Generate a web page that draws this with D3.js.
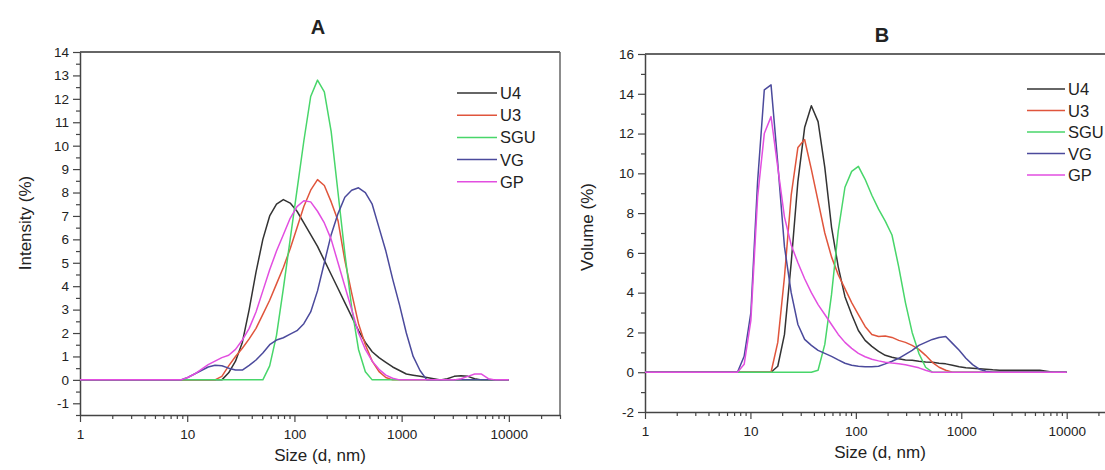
<!DOCTYPE html>
<meta charset="utf-8">
<head>
	<title> DLS size distributions </title>
	<style>
		body {
			margin: 0;
			background: #fff;
		}
		text {
			font-family: "Liberation Sans", Arial, sans-serif;
			fill: #222;
		}
		path.curve {
			fill: none;
			stroke-width: 1.5px;
			stroke-linejoin: round;
		}
	</style>
</head>

<body>
  <div class="container"></div>
</body>

<!-- D3.js -->
<script src="https://cdnjs.cloudflare.com/ajax/libs/d3/7.8.5/d3.min.js"></script>

<script type="text/javascript">

	var width = 1105;
	var height = 470;

	// Size bins (d, nm), shared by every series
	var sizes = [1, 7.531, 8.721, 10.1, 11.7, 13.54, 15.69, 18.17, 21.04, 24.36, 28.21, 32.67, 37.84, 43.82, 50.75,
		58.77, 68.06, 78.82, 91.28, 105.7, 122.4, 141.8, 164.2, 190.1, 220.2, 255, 295.3, 342, 396.1, 458.7, 531.2,
		615.1, 712.4, 825, 955.4, 1106, 1281, 1484, 1718, 1990, 2305, 2669, 3091, 3580, 4145, 4801, 5560, 6439,
		7456, 8635, 10000];

	var names = ["U4", "U3", "SGU", "VG", "GP"];
	var colors = ["#333333", "#e0553c", "#48d66a", "#4b4a9c", "#e24ee0"];

	// Panel A - intensity (%)
	var intU4 = [0, 0, 0, 0, 0, 0, 0, 0, 0, 0.3, 0.8, 1.6, 3.0, 4.6, 6.0, 7.0, 7.5, 7.7, 7.55, 7.2,
		6.7, 6.2, 5.7, 5.1, 4.5, 3.9, 3.3, 2.7, 2.1, 1.6, 1.2, 0.95, 0.75, 0.55, 0.4, 0.25, 0.2, 0.15, 0.1, 0.05,
		0, 0.05, 0.15, 0.18, 0.15, 0.05, 0, 0, 0, 0, 0];
	var intU3 = [0, 0, 0, 0, 0, 0, 0, 0, 0.15, 0.6, 1.0, 1.35, 1.75, 2.2, 2.8, 3.4, 4.1, 4.8, 5.6, 6.5,
		7.4, 8.1, 8.55, 8.3, 7.6, 6.8, 5.1, 3.7, 2.4, 1.5, 0.8, 0.35, 0.1, 0, 0, 0, 0, 0, 0, 0,
		0, 0, 0, 0, 0, 0, 0, 0, 0, 0, 0];
	var intSGU = [0, 0, 0, 0, 0, 0, 0, 0, 0, 0, 0, 0, 0, 0, 0, 0.6, 1.9, 3.9, 6.0, 8.1,
		10.2, 12.1, 12.8, 12.3, 10.6, 8.0, 5.4, 3.1, 1.3, 0.35, 0, 0, 0, 0, 0, 0, 0, 0, 0, 0,
		0, 0, 0, 0, 0, 0, 0, 0, 0, 0, 0];
	var intVG = [0, 0, 0, 0.1, 0.25, 0.4, 0.55, 0.62, 0.6, 0.5, 0.42, 0.42, 0.62, 0.85, 1.15, 1.5, 1.7, 1.8, 1.95, 2.1,
		2.4, 2.9, 3.8, 5.0, 6.2, 7.1, 7.8, 8.1, 8.2, 8.0, 7.5, 6.5, 5.5, 4.3, 3.2, 2.0, 1.0, 0.4, 0, 0,
		0, 0, 0, 0, 0, 0, 0, 0, 0, 0, 0];
	var intGP = [0, 0, 0, 0.1, 0.25, 0.45, 0.65, 0.8, 0.95, 1.05, 1.3, 1.7, 2.2, 2.9, 3.8, 4.7, 5.5, 6.2, 6.9, 7.4,
		7.65, 7.6, 7.2, 6.7, 6.0, 5.0, 4.0, 3.0, 2.0, 1.3, 0.8, 0.45, 0.2, 0.07, 0, 0, 0, 0, 0, 0,
		0, 0, 0, 0.05, 0.15, 0.25, 0.25, 0.05, 0, 0, 0];

	// Panel B - volume (%)
	var volU4 = [0, 0, 0, 0, 0, 0, 0, 0.3, 1.9, 5.5, 9.6, 12.3, 13.4, 12.6, 10.3, 7.3, 5.3, 3.8, 2.9, 2.1,
		1.6, 1.3, 1.05, 0.85, 0.75, 0.68, 0.62, 0.6, 0.55, 0.52, 0.5, 0.45, 0.42, 0.35, 0.28, 0.22, 0.2, 0.18, 0.15, 0.12,
		0.1, 0.1, 0.1, 0.1, 0.1, 0.1, 0.1, 0.05, 0, 0, 0];
	var volU3 = [0, 0, 0, 0, 0, 0, 0, 1.5, 4.8, 8.9, 11.3, 11.7, 10.2, 8.6, 7.0, 5.8, 4.9, 4.2, 3.5, 2.9,
		2.3, 1.9, 1.8, 1.82, 1.75, 1.6, 1.5, 1.35, 1.15, 0.85, 0.5, 0.25, 0.1, 0, 0, 0, 0, 0, 0, 0,
		0, 0, 0, 0, 0, 0, 0, 0, 0, 0, 0];
	var volSGU = [0, 0, 0, 0, 0, 0, 0, 0, 0, 0, 0, 0, 0, 0.1, 1.4, 3.9, 7.1, 9.3, 10.1, 10.35,
		9.7, 8.9, 8.2, 7.6, 6.9, 5.3, 3.5, 2.0, 0.95, 0.25, 0, 0, 0, 0, 0, 0, 0, 0, 0, 0,
		0, 0, 0, 0, 0, 0, 0, 0, 0, 0, 0];
	var volVG = [0, 0, 0.8, 3.0, 9.6, 14.2, 14.45, 10.5, 6.3, 4.0, 2.4, 1.65, 1.35, 1.1, 0.95, 0.8, 0.62, 0.45, 0.35, 0.3,
		0.28, 0.28, 0.3, 0.42, 0.55, 0.7, 0.9, 1.1, 1.35, 1.5, 1.65, 1.75, 1.8, 1.45, 1.1, 0.7, 0.38, 0.15, 0.05, 0,
		0, 0, 0, 0, 0, 0, 0, 0, 0, 0, 0];
	var volGP = [0, 0, 0.4, 2.6, 8.8, 12.0, 12.85, 10.3, 7.8, 6.4, 5.5, 4.7, 4.0, 3.4, 2.9, 2.4, 1.9, 1.5, 1.2, 0.95,
		0.78, 0.65, 0.57, 0.5, 0.46, 0.43, 0.38, 0.3, 0.22, 0.1, 0, 0, 0, 0, 0, 0, 0, 0, 0, 0,
		0, 0, 0, 0, 0, 0, 0, 0, 0, 0, 0];

	var svg = d3.select(".container").append("svg")
		.attr("width", width)
		.attr("height", height);

	// plain hyphen for negatives, like the original
	var fmt = function (d) { return String(d); };

	function drawPanel(p) {
		var g = svg.append("g");

		var x = d3.scaleLog().domain([1, 30000]).range([p.left, p.right]);
		var y = d3.scaleLinear().domain(p.yDomain).range([p.bottom, p.top]);

		// frame: top and right borders
		g.append("line")
			.attr("x1", p.left).attr("x2", p.frameRight)
			.attr("y1", p.top).attr("y2", p.top)
			.attr("stroke", "#666").attr("stroke-width", 2);
		if (p.frameRight <= width) {
			g.append("line")
				.attr("x1", p.frameRight).attr("x2", p.frameRight)
				.attr("y1", p.top).attr("y2", p.bottom)
				.attr("stroke", "#666").attr("stroke-width", 1.5);
		}

		// y axis, major + minor
		var g0 = Math.ceil(p.yDomain[0] / p.yStep) * p.yStep;
		var yMajor = d3.range(g0, p.yDomain[1] + 0.01, p.yStep);
		var yMinor = d3.range(g0 - p.yStep / 2, p.yDomain[1], p.yStep)
			.filter(function (v) { return v >= p.yDomain[0]; });

		g.append("g")
			.attr("transform", "translate(" + p.left + ",0)")
			.call(d3.axisLeft(y).tickValues(yMajor).tickSize(7).tickSizeOuter(0).tickPadding(4)
				.tickFormat(fmt));
		g.append("g")
			.attr("transform", "translate(" + p.left + ",0)")
			.call(d3.axisLeft(y).tickValues(yMinor).tickSize(4).tickSizeOuter(0).tickFormat(""))
			.select(".domain").remove();

		// x axis, decades + minor ticks
		var xMajor = [1, 10, 100, 1000, 10000];
		var xMinor = [];
		xMajor.forEach(function (d) {
			for (var k = 2; k <= 9; k++) if (d * k <= 30000) xMinor.push(d * k);
		});

		g.append("g")
			.attr("transform", "translate(0," + p.bottom + ")")
			.call(d3.axisBottom(x).tickValues(xMajor).tickSize(7).tickSizeOuter(0).tickPadding(7)
				.tickFormat(fmt));
		g.append("g")
			.attr("transform", "translate(0," + p.bottom + ")")
			.call(d3.axisBottom(x).tickValues(xMinor).tickSize(4).tickSizeOuter(0).tickFormat(""))
			.select(".domain").remove();

		g.selectAll(".domain").attr("stroke", "#444").attr("stroke-width", 1.5);
		g.selectAll(".tick line").attr("stroke", "#444").attr("stroke-width", 1.2);
		g.selectAll(".tick text")
			.attr("font-family", "Liberation Sans, Arial, sans-serif")
			.attr("font-size", 13.5)
			.attr("fill", "#333");

		// curves
		var line = d3.line()
			.x(function (d) { return x(d[0]); })
			.y(function (d) { return y(d[1]); });

		p.series.forEach(function (vals, i) {
			g.append("path")
				.datum(sizes.map(function (s, j) { return [s, vals[j]]; }))
				.attr("class", "curve")
				.attr("stroke", colors[i])
				.attr("d", line);
		});

		// legend
		names.forEach(function (n, i) {
			var ly = p.legendY + i * p.legendStep;
			g.append("line")
				.attr("x1", p.legendX).attr("x2", p.legendX + p.legendLen)
				.attr("y1", ly).attr("y2", ly)
				.attr("stroke", colors[i]).attr("stroke-width", 1.5);
			g.append("text")
				.attr("x", p.legendX + p.legendLen + 3)
				.attr("y", ly + 6)
				.attr("font-size", 16.5)
				.text(n);
		});

		// titles
		g.append("text")
			.attr("x", p.titleX).attr("y", p.titleY)
			.attr("text-anchor", "middle")
			.attr("font-size", 20).attr("font-weight", "bold")
			.text(p.title);

		g.append("text")
			.attr("x", p.xLabelX).attr("y", p.xLabelY)
			.attr("text-anchor", "middle")
			.attr("font-size", 17)
			.text("Size (d, nm)");

		g.append("text")
			.attr("transform", "translate(" + p.yLabelX + "," + p.yLabelY + ") rotate(-90)")
			.attr("text-anchor", "middle")
			.attr("font-size", 17)
			.text(p.yLabel);
	}

	drawPanel({
		title: "A", titleX: 318, titleY: 34,
		left: 80, right: 560, frameRight: 560, top: 52, bottom: 415,
		yDomain: [-1.5, 14], yStep: 1,
		yLabel: "Intensity (%)", yLabelX: 31, yLabelY: 223,
		xLabelX: 320, xLabelY: 461,
		legendX: 457, legendLen: 40, legendY: 93, legendStep: 22.2,
		series: [intU4, intU3, intSGU, intVG, intGP]
	});

	drawPanel({
		title: "B", titleX: 882, titleY: 42,
		left: 645, right: 1117, frameRight: 1117, top: 54, bottom: 412,
		yDomain: [-2, 16], yStep: 2,
		yLabel: "Volume (%)", yLabelX: 593, yLabelY: 227,
		xLabelX: 880, xLabelY: 458,
		legendX: 1027, legendLen: 38, legendY: 89, legendStep: 21.5,
		series: [volU4, volU3, volSGU, volVG, volGP]
	});

</script>

</html>
